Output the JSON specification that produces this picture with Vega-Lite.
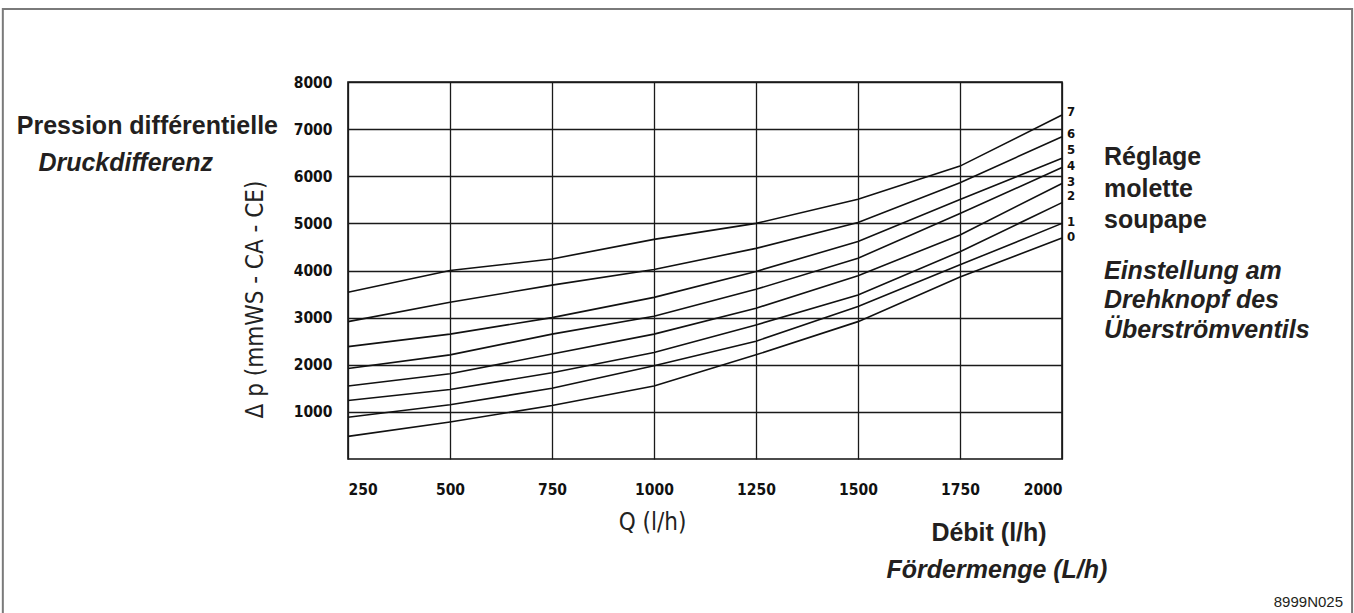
{
  "$schema": "https://vega.github.io/schema/vega-lite/v6.json",
  "width": 714,
  "height": 377,
  "autosize": {"type": "none"},
  "padding": {"left": 348, "top": 82, "right": 292, "bottom": 154},
  "background": "white",
  "config": {
    "view": {"stroke": "#111", "strokeWidth": 1.6},
    "axis": {
      "domain": false,
      "ticks": false,
      "tickSize": 0,
      "grid": true,
      "gridColor": "#1a1a1a",
      "gridWidth": 1.3,
      "gridOpacity": 1,
      "labelFont": "DejaVu Sans Condensed, Liberation Sans Narrow, DejaVu Sans",
      "labelFontWeight": "bold",
      "labelFontSize": 15.5,
      "labelColor": "#111",
      "titleFont": "DejaVu Sans Condensed, Liberation Sans Narrow, DejaVu Sans",
      "titleFontWeight": "normal",
      "titleFontSize": 24,
      "titleColor": "#222"
    }
  },
  "datasets": {
    "curves": [
      {"setting": 0, "Q": 250, "dp": 480}, {"setting": 0, "Q": 500, "dp": 785}, {"setting": 0, "Q": 750, "dp": 1135}, {"setting": 0, "Q": 1000, "dp": 1550}, {"setting": 0, "Q": 1250, "dp": 2210}, {"setting": 0, "Q": 1500, "dp": 2915}, {"setting": 0, "Q": 1750, "dp": 3860}, {"setting": 0, "Q": 2000, "dp": 4690},
      {"setting": 1, "Q": 250, "dp": 885}, {"setting": 1, "Q": 500, "dp": 1150}, {"setting": 1, "Q": 750, "dp": 1500}, {"setting": 1, "Q": 1000, "dp": 1980}, {"setting": 1, "Q": 1250, "dp": 2500}, {"setting": 1, "Q": 1500, "dp": 3235}, {"setting": 1, "Q": 1750, "dp": 4120}, {"setting": 1, "Q": 2000, "dp": 5000},
      {"setting": 2, "Q": 250, "dp": 1240}, {"setting": 2, "Q": 500, "dp": 1475}, {"setting": 2, "Q": 750, "dp": 1830}, {"setting": 2, "Q": 1000, "dp": 2260}, {"setting": 2, "Q": 1250, "dp": 2845}, {"setting": 2, "Q": 1500, "dp": 3480}, {"setting": 2, "Q": 1750, "dp": 4400}, {"setting": 2, "Q": 2000, "dp": 5440},
      {"setting": 3, "Q": 250, "dp": 1550}, {"setting": 3, "Q": 500, "dp": 1810}, {"setting": 3, "Q": 750, "dp": 2230}, {"setting": 3, "Q": 1000, "dp": 2650}, {"setting": 3, "Q": 1250, "dp": 3200}, {"setting": 3, "Q": 1500, "dp": 3890}, {"setting": 3, "Q": 1750, "dp": 4755}, {"setting": 3, "Q": 2000, "dp": 5845},
      {"setting": 4, "Q": 250, "dp": 1920}, {"setting": 4, "Q": 500, "dp": 2210}, {"setting": 4, "Q": 750, "dp": 2650}, {"setting": 4, "Q": 1000, "dp": 3030}, {"setting": 4, "Q": 1250, "dp": 3600}, {"setting": 4, "Q": 1500, "dp": 4260}, {"setting": 4, "Q": 1750, "dp": 5210}, {"setting": 4, "Q": 2000, "dp": 6185},
      {"setting": 5, "Q": 250, "dp": 2385}, {"setting": 5, "Q": 500, "dp": 2650}, {"setting": 5, "Q": 750, "dp": 3000}, {"setting": 5, "Q": 1000, "dp": 3430}, {"setting": 5, "Q": 1250, "dp": 3980}, {"setting": 5, "Q": 1500, "dp": 4615}, {"setting": 5, "Q": 1750, "dp": 5505}, {"setting": 5, "Q": 2000, "dp": 6380},
      {"setting": 6, "Q": 250, "dp": 2915}, {"setting": 6, "Q": 500, "dp": 3325}, {"setting": 6, "Q": 750, "dp": 3690}, {"setting": 6, "Q": 1000, "dp": 4020}, {"setting": 6, "Q": 1250, "dp": 4470}, {"setting": 6, "Q": 1500, "dp": 5020}, {"setting": 6, "Q": 1750, "dp": 5860}, {"setting": 6, "Q": 2000, "dp": 6840},
      {"setting": 7, "Q": 250, "dp": 3540}, {"setting": 7, "Q": 500, "dp": 4000}, {"setting": 7, "Q": 750, "dp": 4245}, {"setting": 7, "Q": 1000, "dp": 4660}, {"setting": 7, "Q": 1250, "dp": 5000}, {"setting": 7, "Q": 1500, "dp": 5510}, {"setting": 7, "Q": 1750, "dp": 6215}, {"setting": 7, "Q": 2000, "dp": 7300}
    ],
    "labels": [
      {"setting": 7, "Q": 2000, "dp": 7363},
      {"setting": 6, "Q": 2000, "dp": 6900},
      {"setting": 5, "Q": 2000, "dp": 6560},
      {"setting": 4, "Q": 2000, "dp": 6218},
      {"setting": 3, "Q": 2000, "dp": 5878},
      {"setting": 2, "Q": 2000, "dp": 5581},
      {"setting": 1, "Q": 2000, "dp": 5030},
      {"setting": 0, "Q": 2000, "dp": 4710}
    ]
  },
  "layer": [
    {
      "data": {"values": [{}]},
      "mark": {"type": "rect", "fill": "transparent", "stroke": "#7a7a7a", "strokeWidth": 2, "clip": false},
      "encoding": {
        "x": {"datum": -596, "type": "quantitative"},
        "x2": {"datum": 2711},
        "y": {"datum": 9549, "type": "quantitative"},
        "y2": {"datum": -3900}
      }
    },
    {
      "data": {"name": "curves"},
      "mark": {"type": "line", "color": "#111", "strokeWidth": 1.6, "interpolate": "linear"},
      "encoding": {
        "x": {
          "field": "Q", "type": "quantitative",
          "scale": {"domain": [250, 2000], "nice": false, "zero": false},
          "axis": {
            "values": [250, 500, 750, 1000, 1250, 1500, 1750, 2000],
            "format": "d",
            "labelPadding": 30,
            "labelBaseline": "middle",
            "title": "Q (l/h)",
            "titleX": 304,
            "titleY": 63,
            "titleBaseline": "middle",
            "titleAlign": "center",
            "titleAnchor": null
          }
        },
        "y": {
          "field": "dp", "type": "quantitative",
          "scale": {"domain": [0, 8000], "nice": false},
          "axis": {
            "values": [1000, 2000, 3000, 4000, 5000, 6000, 7000, 8000],
            "format": "d",
            "labelPadding": 16,
            "labelBaseline": "middle",
            "title": "Δ p (mmWS - CA - CE)",
            "titleX": -93,
            "titleY": 217,
            "titleAngle": 270,
            "titleBaseline": "middle",
            "titleAlign": "center",
            "titleAnchor": null
          }
        },
        "detail": {"field": "setting", "type": "nominal"}
      }
    },
    {
      "data": {"name": "labels"},
      "mark": {"type": "text", "align": "left", "baseline": "middle", "dx": 5, "font": "DejaVu Sans Condensed, Liberation Sans Narrow, DejaVu Sans", "fontWeight": "bold", "fontSize": 13, "color": "#111", "clip": false},
      "encoding": {
        "x": {"field": "Q", "type": "quantitative"},
        "y": {"field": "dp", "type": "quantitative"},
        "text": {"field": "setting", "type": "nominal"}
      }
    },
    {
      "data": {"values": [{}]},
      "mark": {"type": "text", "text": "Pression différentielle", "align": "right", "baseline": "middle", "dx": -70, "dy": -3, "font": "Liberation Sans", "fontWeight": "bold", "fontSize": 25, "color": "#231f20", "clip": false},
      "encoding": {"x": {"datum": 250, "type": "quantitative"}, "y": {"datum": 7000, "type": "quantitative"}}
    },
    {
      "data": {"values": [{}]},
      "mark": {"type": "text", "text": "Druckdifferenz", "align": "right", "baseline": "middle", "dx": -135, "dy": -13, "font": "Liberation Sans", "fontWeight": "bold", "fontStyle": "italic", "fontSize": 25, "color": "#231f20", "clip": false},
      "encoding": {"x": {"datum": 250, "type": "quantitative"}, "y": {"datum": 6000, "type": "quantitative"}}
    },
    {
      "data": {"values": [{}]},
      "mark": {"type": "text", "text": ["Réglage", "molette", "soupape"], "lineHeight": 31.5, "align": "left", "baseline": "middle", "dx": 42, "dy": -19, "font": "Liberation Sans", "fontWeight": "bold", "fontSize": 25, "color": "#231f20", "clip": false},
      "encoding": {"x": {"datum": 2000, "type": "quantitative"}, "y": {"datum": 6000, "type": "quantitative"}}
    },
    {
      "data": {"values": [{}]},
      "mark": {"type": "text", "text": ["Einstellung am", "Drehknopf des", "Überströmventils"], "lineHeight": 29.5, "align": "left", "baseline": "middle", "dx": 42, "dy": 0, "font": "Liberation Sans", "fontWeight": "bold", "fontStyle": "italic", "fontSize": 25, "color": "#231f20", "clip": false},
      "encoding": {"x": {"datum": 2000, "type": "quantitative"}, "y": {"datum": 4000, "type": "quantitative"}}
    },
    {
      "data": {"values": [{}]},
      "mark": {"type": "text", "text": "Débit (l/h)", "align": "center", "baseline": "middle", "dx": 29, "dy": 74, "font": "Liberation Sans", "fontWeight": "bold", "fontSize": 25, "color": "#231f20", "clip": false},
      "encoding": {"x": {"datum": 1750, "type": "quantitative"}, "y": {"datum": 0, "type": "quantitative"}}
    },
    {
      "data": {"values": [{}]},
      "mark": {"type": "text", "text": "Fördermenge (L/h)", "align": "center", "baseline": "middle", "dx": 37, "dy": 111, "font": "Liberation Sans", "fontWeight": "bold", "fontStyle": "italic", "fontSize": 25, "color": "#231f20", "clip": false},
      "encoding": {"x": {"datum": 1750, "type": "quantitative"}, "y": {"datum": 0, "type": "quantitative"}}
    },
    {
      "data": {"values": [{}]},
      "mark": {"type": "text", "text": "8999N025", "align": "right", "baseline": "middle", "dx": 281, "dy": 143, "font": "Liberation Sans", "fontSize": 15, "color": "#231f20", "clip": false},
      "encoding": {"x": {"datum": 2000, "type": "quantitative"}, "y": {"datum": 0, "type": "quantitative"}}
    }
  ]
}
